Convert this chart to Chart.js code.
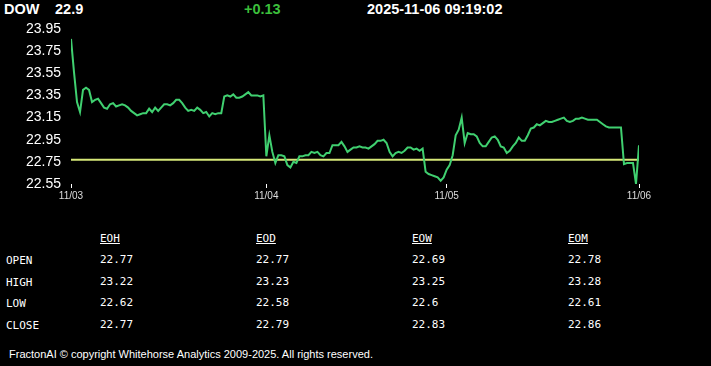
<!DOCTYPE html>
<html>
<head>
<meta charset="utf-8">
<script src="https://cdn.jsdelivr.net/npm/chart.js@4.4.1/dist/chart.umd.min.js"></script>
<style>
  body { margin: 0; background: #000; width: 711px; height: 366px; overflow: hidden; font-family: "Liberation Sans", Arial, sans-serif; color: #fff; }
  .hdr { position: absolute; top: 1px; font-weight: bold; font-size: 14.5px; }
  #chartBox { position: absolute; left: 0; top: 0; width: 711px; height: 210px; }
  .tbl { position: absolute; font-family: "DejaVu Sans Mono", monospace; font-size: 11px; color: #fff; }
  .tbl u { text-decoration: underline; }
  #footer { position: absolute; left: 9px; top: 348px; font-size: 11px; letter-spacing: 0; }
</style>
</head>
<body>
<div class="hdr" style="left:4px">DOW</div>
<div class="hdr" style="left:55px">22.9</div>
<div class="hdr" style="left:244px;color:#3cbf3c">+0.13</div>
<div class="hdr" style="left:367px">2025-11-06 09:19:02</div>
<div id="chartBox"><canvas id="chart"></canvas></div>
<div id="table"></div>
<div id="footer">FractonAI © copyright Whitehorse Analytics 2009-2025. All rights reserved.</div>
<script>
// price samples, evenly spaced in trading time
const prices = [
  23.86, 23.56, 23.29, 23.20, 23.40, 23.42, 23.40, 23.29, 23.31, 23.32,
  23.28, 23.24, 23.23, 23.27, 23.28, 23.25, 23.26, 23.27, 23.26, 23.24,
  23.21, 23.19, 23.17, 23.18, 23.19, 23.19, 23.23, 23.20, 23.24, 23.21,
  23.24, 23.27, 23.27, 23.26, 23.28, 23.31, 23.31, 23.28, 23.24, 23.21,
  23.22, 23.21, 23.24, 23.22, 23.19, 23.20, 23.16, 23.19, 23.18, 23.19,
  23.19, 23.34, 23.35, 23.34, 23.36, 23.33, 23.33, 23.34, 23.36, 23.38,
  23.35, 23.35, 23.35, 23.34, 23.35, 22.80, 22.99, 22.84, 22.74, 22.81,
  22.81, 22.80, 22.72, 22.70, 22.75, 22.74, 22.80, 22.80, 22.81, 22.81,
  22.84, 22.83, 22.84, 22.81, 22.80, 22.83, 22.83, 22.90, 22.90, 22.90,
  22.93, 22.89, 22.84, 22.86, 22.88, 22.88, 22.89, 22.88, 22.88, 22.87,
  22.89, 22.91, 22.94, 22.94, 22.95, 22.92, 22.84, 22.80, 22.83, 22.84,
  22.83, 22.85, 22.88, 22.88, 22.86, 22.87, 22.85, 22.87, 22.66, 22.64,
  22.63, 22.62, 22.61, 22.58, 22.61, 22.68, 22.72, 22.81, 22.99, 23.04,
  23.15, 22.92, 23.01, 23.00, 23.00, 22.98, 22.92, 22.89, 22.89, 22.93,
  22.97, 22.98, 22.95, 22.89, 22.88, 22.83, 22.85, 22.89, 22.92, 22.97,
  22.94, 22.94, 22.99, 23.05, 23.06, 23.09, 23.08, 23.10, 23.12, 23.11,
  23.11, 23.12, 23.13, 23.14, 23.15, 23.12, 23.11, 23.12, 23.14, 23.14,
  23.15, 23.14, 23.13, 23.13, 23.13, 23.13, 23.11, 23.09, 23.07, 23.06,
  23.06, 23.06, 23.06, 23.06, 22.73, 22.74, 22.74, 22.74, 22.55, 22.90
];
const refLevel = 22.77;
const dayLabels = ['11/03', '11/04', '11/05', '11/06'];
const dayIndex = [0, 65, 125, 189];
const yTicks = [22.55, 22.75, 22.95, 23.15, 23.35, 23.55, 23.75, 23.95];

const tableCols = ['EOH', 'EOD', 'EOW', 'EOM'];
const tableRows = ['OPEN', 'HIGH', 'LOW', 'CLOSE'];
const openVals = ['22.77', '22.77', '22.69', '22.78'];
const highVals = ['23.22', '23.23', '23.25', '23.28'];
const lowVals = ['22.62', '22.58', '22.6', '22.61'];
const closeVals = ['22.77', '22.79', '22.83', '22.86'];

// build the stats table under the chart
const rowVals = [openVals, highVals, lowVals, closeVals];
const colX = [100, 256, 412, 568];
const rowY = [254, 276, 297, 319];
const table = document.getElementById('table');
tableCols.forEach((c, i) => {
  const d = document.createElement('div');
  d.className = 'tbl';
  d.style.left = colX[i] + 'px';
  d.style.top = '232px';
  d.innerHTML = '<u>' + c + '</u>';
  table.appendChild(d);
});
tableRows.forEach((r, j) => {
  const d = document.createElement('div');
  d.className = 'tbl';
  d.style.left = '6px';
  d.style.top = rowY[j] + 'px';
  d.textContent = r;
  table.appendChild(d);
  rowVals[j].forEach((v, i) => {
    const c = document.createElement('div');
    c.className = 'tbl';
    c.style.left = colX[i] + 'px';
    c.style.top = (rowY[j] - 1) + 'px';
    c.textContent = v;
    table.appendChild(c);
  });
});

const ctx = document.getElementById('chart').getContext('2d');
new Chart(ctx, {
  type: 'line',
  data: {
    datasets: [
      {
        data: prices.map((p, i) => ({ x: i, y: p })),
        borderColor: 'rgb(64, 208, 112)',
        borderWidth: 2,
        pointRadius: 0,
        tension: 0
      },
      {
        data: [{ x: 0, y: refLevel }, { x: prices.length, y: refLevel }],
        borderColor: 'rgb(214, 232, 120)',
        borderWidth: 2,
        pointRadius: 0
      }
    ]
  },
  options: {
    responsive: true,
    maintainAspectRatio: false,
    animation: false,
    layout: { padding: { top: 29, right: 72, bottom: 0, left: 0 } },
    plugins: { legend: { display: false }, tooltip: { enabled: false } },
    scales: {
      x: {
        type: 'linear',
        min: 0,
        max: prices.length - 1,
        afterBuildTicks: axis => { axis.ticks = dayIndex.map(v => ({ value: v })); },
        afterFit: axis => { axis.height = 26; },
        ticks: {
          color: '#ddd',
          font: { size: 10, family: 'Liberation Sans' },
          padding: 2,
          maxRotation: 0,
          autoSkip: false,
          callback: v => dayLabels[dayIndex.indexOf(v)]
        },
        grid: { drawOnChartArea: false, drawTicks: true, tickLength: 4, color: '#fff' },
        border: { display: false }
      },
      y: {
        min: 22.55,
        max: 23.95,
        afterBuildTicks: axis => { axis.ticks = yTicks.map(v => ({ value: v })); },
        afterFit: axis => { axis.width = 71; },
        ticks: {
          color: '#fff',
          font: { size: 14, family: 'Liberation Sans' },
          padding: 10,
          callback: v => v.toFixed(2)
        },
        grid: { display: false, drawTicks: false },
        border: { display: false }
      }
    }
  }
});
</script>
</body>
</html>
